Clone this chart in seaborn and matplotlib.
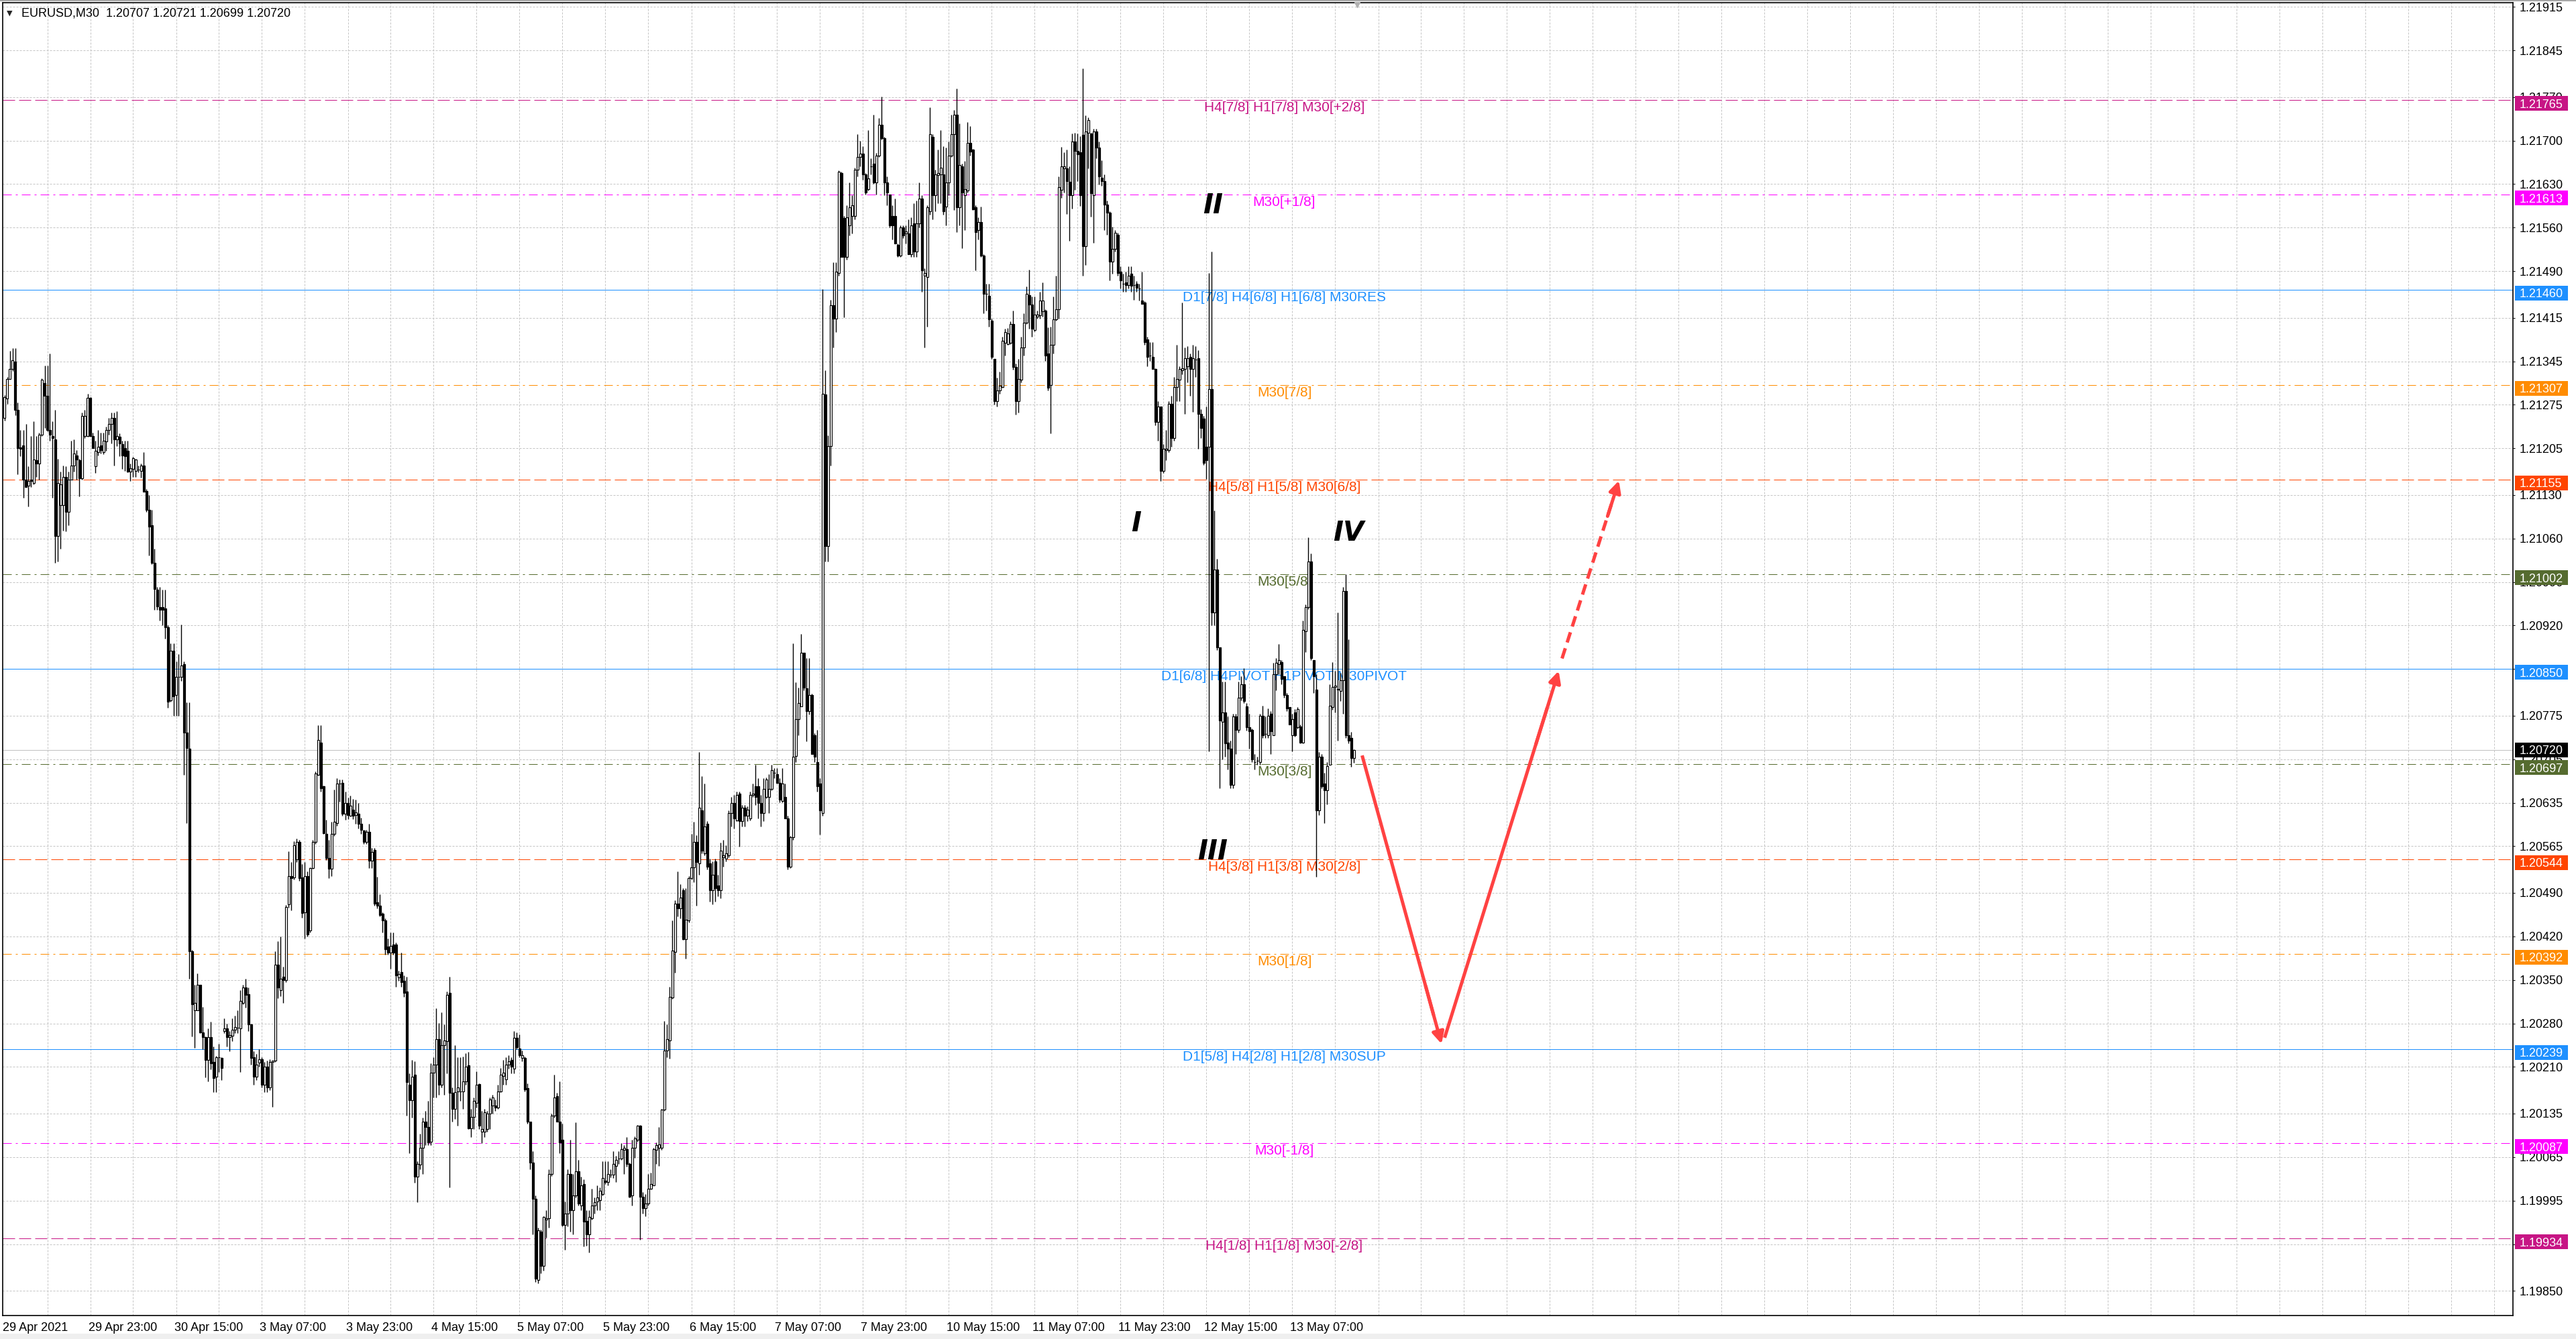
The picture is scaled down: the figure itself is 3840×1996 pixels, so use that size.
import numpy as np
import pandas as pd
import matplotlib
matplotlib.use("Agg")
import matplotlib.pyplot as plt
import matplotlib.transforms as mtransforms
from matplotlib.patches import Rectangle
import seaborn as sns

# ---------------- data (prices in points of 1e-5 above 1.20000) ----------------
BASE_PRICE = 1.20000
open_pts = [
1254,1285,1316,1333,1345,1267,1206,1210,1155,1145,1155,1149,1186,1180,1227,1310,
1289,1234,1225,1219,1064,1114,1114,1159,1103,1155,1177,1194,1186,1157,1225,1225,
1286,1225,1176,1199,1210,1199,1216,1234,1244,1254,1219,1224,1212,1205,1201,1168,
1172,1169,1171,1169,1177,1136,1106,1081,1021,978,950,950,947,917,800,879,
808,837,837,858,748,722,396,301,301,342,266,258,221,258,218,194,
226,225,268,272,258,260,270,273,272,313,338,327,278,226,194,217,
222,181,210,177,218,220,375,334,355,350,472,517,515,544,572,515,
459,517,430,530,572,680,732,661,585,546,529,585,602,666,667,617,
635,614,624,615,617,601,590,572,588,542,559,475,469,456,446,404,
394,407,407,354,363,349,331,181,156,197,33,53,80,122,113,90,
201,214,255,181,245,252,329,168,143,171,171,171,187,213,111,130,
152,182,106,106,110,135,148,148,145,171,195,190,214,221,207,257,
240,225,225,176,122,56,-2,-133,-55,-110,-36,-33,38,132,163,122,
93,-44,-26,38,-20,3,42,-13,22,-38,-59,-33,-13,-6,-4,6,
27,25,37,37,51,63,63,77,78,54,3,80,93,115,1,-17,
-10,14,20,77,80,80,141,236,253,322,395,473,465,494,415,446,
514,531,572,537,623,554,601,537,494,541,502,494,547,545,550,618,
635,607,650,605,627,614,610,647,661,661,635,618,644,644,657,683,
681,667,638,644,610,532,580,710,769,790,876,819,782,808,743,700,
666,618,1292,1048,1209,1435,1414,1487,1648,1575,1513,1564,1579,1579,1653,1674,
1679,1646,1622,1659,1663,1633,1676,1725,1704,1633,1613,1579,1579,1532,1515,1560,
1551,1551,1517,1567,1521,1567,1607,1483,1481,1586,1706,1612,1644,1646,1646,1594,
1633,1676,1710,1742,1593,1659,1612,1620,1696,1685,1593,1556,1569,1515,1453,1450,
1410,1349,1281,1298,1304,1375,1373,1375,1405,1336,1281,1315,1367,1407,1451,1436,
1395,1417,1419,1425,1427,1358,1307,1371,1412,1429,1621,1655,1655,1634,1612,1698,
1683,1681,1709,1530,1713,1711,1612,1715,1689,1640,1635,1597,1584,1505,1526,1549,
1489,1470,1472,1468,1486,1468,1470,1462,1443,1440,1380,1354,1352,1333,1247,1272,
1169,1202,1202,1277,1221,1303,1315,1331,1333,1337,1352,1333,1348,1350,1260,1253,
1208,1208,1300,941,1010,885,765,780,732,722,664,774,752,804,825,790,
756,752,700,703,700,775,746,743,778,743,842,858,861,838,808,789,
743,780,756,758,732,911,950,1023,864,817,623,709,666,655,696,789,
821,817,815,832,976,744,739,707]
high_pts = [
1291,1320,1362,1366,1366,1279,1234,1234,1244,1176,1225,1248,1225,1230,1318,1338,
1338,1357,1248,1267,1188,1168,1177,1176,1168,1217,1219,1202,1188,1263,1267,1293,
1287,1230,1217,1234,1230,1230,1240,1254,1263,1263,1265,1229,1217,1217,1217,1180,
1191,1188,1177,1180,1199,1139,1130,1106,1044,982,982,978,978,920,891,891,
862,874,922,862,796,796,398,342,360,342,307,259,272,283,243,228,
247,226,288,280,268,288,292,301,334,342,352,338,280,235,231,239,
226,218,220,222,220,396,412,420,371,470,557,540,573,577,575,536,
540,524,531,575,685,760,760,663,608,575,604,656,674,672,672,653,
643,646,641,640,634,611,591,591,601,562,562,516,488,459,449,417,
426,426,410,365,394,357,355,200,221,219,58,103,129,139,155,216,
226,304,281,298,279,331,355,177,245,226,226,227,232,234,142,161,
203,184,139,142,139,161,165,158,181,208,221,226,229,226,268,265,
262,236,227,184,122,74,3,-49,-52,-30,-20,45,135,197,168,187,
119,-6,45,93,38,121,61,33,29,-20,-20,14,0,19,16,58,
58,58,45,74,67,74,87,84,97,56,93,98,117,117,9,6,
38,40,80,89,113,142,284,279,339,446,478,524,504,498,498,517,
585,604,583,717,678,666,605,545,541,545,519,571,575,567,623,644,
648,653,653,631,631,629,653,666,696,674,648,674,676,681,696,691,
691,674,691,666,614,582,891,829,820,906,876,868,868,810,747,752,
674,1461,1330,1226,1444,1504,1504,1652,1650,1579,1596,1633,1612,1656,1710,1699,
1691,1648,1717,1672,1742,1680,1736,1771,1706,1642,1613,1596,1607,1534,1564,1564,
1564,1573,1577,1599,1603,1633,1612,1495,1596,1754,1710,1653,1685,1717,1691,1689,
1698,1742,1749,1784,1728,1663,1667,1730,1723,1687,1596,1577,1594,1517,1470,1470,
1414,1349,1319,1328,1384,1397,1398,1409,1427,1341,1349,1384,1422,1465,1492,1449,
1449,1427,1457,1472,1429,1400,1401,1449,1483,1642,1690,1681,1685,1659,1711,1713,
1711,1707,1816,1741,1737,1713,1719,1719,1698,1668,1646,1603,1586,1561,1556,1552,
1498,1486,1489,1498,1498,1483,1474,1470,1489,1442,1384,1376,1376,1334,1281,1272,
1212,1234,1281,1290,1320,1371,1337,1440,1367,1369,1358,1371,1369,1363,1268,1257,
1272,1487,1522,1105,1027,885,830,830,774,735,778,778,830,838,851,795,
778,754,713,709,778,791,774,787,782,860,868,890,864,838,812,789,
778,786,789,761,928,954,1062,1036,864,842,717,713,683,700,825,861,
847,941,844,982,1002,898,749,721]
low_pts = [
1250,1277,1316,1329,1258,1163,1192,1125,1143,1111,1143,1147,1159,1155,1225,1238,
1232,1217,1126,1021,1023,1044,1073,1071,1081,1155,1168,1155,1128,1155,1221,1224,
1224,1205,1165,1194,1197,1196,1201,1227,1213,1177,1209,1192,1172,1169,1166,1153,
1159,1159,1166,1158,1135,1103,1033,1019,945,945,928,920,899,788,798,775,
775,775,831,680,602,352,259,241,301,264,239,193,187,206,169,169,
202,189,264,243,235,251,264,264,202,311,305,268,214,181,189,210,
177,169,169,173,146,218,321,324,313,346,466,462,511,540,509,450,
417,420,426,529,569,679,653,585,543,514,517,582,598,637,614,608,
609,613,609,601,593,585,569,569,530,530,469,465,452,426,391,391,
368,391,339,349,339,323,132,71,129,24,-7,45,38,84,84,84,
161,161,165,177,165,200,16,122,126,116,155,142,181,110,97,110,
145,110,87,97,106,110,135,139,142,169,181,181,207,200,200,239,
226,219,171,119,45,-59,-136,-138,-122,-118,-65,-49,35,129,122,71,
-46,-84,-46,-55,-59,0,-13,-20,-79,-78,-88,-36,-26,-20,-20,3,
22,19,32,31,25,54,61,38,50,0,-13,64,90,-68,-26,-30,
-13,13,19,54,51,77,139,226,223,320,362,452,449,414,384,443,
511,507,469,519,554,550,528,476,472,476,485,481,532,541,547,597,
593,605,564,597,597,605,607,644,631,610,597,605,642,618,655,674,
666,636,636,610,528,530,575,700,743,790,816,734,777,713,700,653,
584,614,1023,1023,1177,1367,1392,1483,1513,1416,1508,1547,1551,1573,1642,1659,
1637,1613,1620,1646,1630,1613,1674,1702,1612,1596,1560,1541,1534,1513,1513,1543,
1534,1517,1513,1513,1513,1560,1457,1367,1401,1581,1573,1586,1599,1599,1581,1564,
1612,1674,1588,1553,1564,1527,1556,1616,1676,1588,1491,1541,1513,1422,1427,1401,
1349,1276,1272,1293,1302,1354,1371,1373,1332,1259,1263,1311,1354,1405,1397,1384,
1393,1414,1414,1417,1346,1298,1229,1358,1410,1414,1608,1616,1582,1539,1591,1621,
1635,1595,1483,1500,1655,1578,1535,1672,1629,1627,1556,1548,1475,1486,1522,1483,
1462,1457,1457,1462,1457,1444,1457,1443,1437,1371,1337,1346,1333,1242,1217,1152,
1165,1186,1199,1208,1217,1281,1281,1324,1260,1311,1290,1264,1320,1204,1221,1178,
1156,718,920,920,881,658,705,709,688,658,658,713,748,800,795,751,
722,700,688,696,696,739,739,739,713,743,816,842,825,804,782,761,
718,741,754,731,731,877,946,864,812,516,615,658,602,632,696,785,
780,735,799,778,739,731,693,699]
close_pts = [
1287,1316,1333,1347,1267,1205,1204,1155,1143,1153,1153,1187,1180,1227,1315,1289,
1234,1227,1221,1064,1149,1147,1159,1103,1155,1177,1197,1187,1157,1257,1257,1286,
1225,1205,1201,1207,1202,1217,1234,1244,1254,1219,1225,1213,1194,1192,1168,1173,
1189,1187,1171,1177,1135,1106,1079,1021,979,951,945,945,917,798,879,806,
837,837,856,748,723,396,311,313,342,266,258,221,258,216,192,226,
226,208,272,258,261,270,274,273,316,338,326,278,225,194,214,222,
181,210,177,218,220,375,338,352,350,467,517,514,567,572,514,458,
517,423,530,572,682,736,658,586,546,529,585,604,666,666,617,635,
615,630,614,619,601,591,572,588,542,556,473,469,454,446,399,394,
405,394,357,359,346,329,186,156,194,33,54,80,122,113,89,201,
214,255,181,245,253,326,168,143,169,177,171,187,210,111,130,155,
181,116,110,137,135,158,161,145,171,197,201,214,219,210,257,242,
229,229,174,122,56,-2,-131,-53,-110,-31,-33,38,132,161,122,89,
-44,-26,38,-20,3,42,-10,20,-39,-59,-31,-13,-8,0,11,31,
25,38,37,54,61,63,78,80,54,1,80,95,116,1,-17,-10,
14,22,78,84,85,141,236,255,323,397,473,465,482,415,447,514,
531,572,540,627,558,597,532,494,519,498,494,558,550,554,618,635,
610,648,605,627,614,624,648,650,644,635,618,657,672,657,687,683,
667,640,666,610,532,580,709,769,795,876,820,782,808,713,709,661,
623,1293,1048,1209,1435,1414,1489,1650,1513,1513,1577,1593,1596,1653,1674,1679,
1646,1616,1639,1659,1633,1676,1725,1704,1633,1616,1564,1564,1534,1515,1560,1547,
1554,1517,1564,1521,1567,1607,1491,1487,1593,1710,1612,1646,1648,1656,1586,1633,
1676,1710,1742,1593,1661,1616,1622,1696,1682,1590,1553,1569,1515,1453,1453,1412,
1352,1281,1298,1306,1378,1392,1390,1405,1336,1281,1317,1367,1407,1453,1436,1397,
1420,1420,1443,1443,1354,1302,1371,1412,1429,1625,1658,1658,1635,1612,1698,1683,
1678,1612,1530,1715,1733,1615,1715,1689,1642,1635,1597,1584,1505,1526,1552,1487,
1475,1470,1468,1483,1466,1468,1463,1462,1437,1376,1352,1354,1333,1247,1272,1169,
1204,1204,1277,1221,1303,1317,1333,1334,1350,1350,1333,1350,1348,1260,1238,1182,
1186,1300,941,1010,885,767,780,731,722,664,774,752,804,825,799,756,
750,705,700,703,775,743,746,775,750,842,860,864,834,808,787,761,
769,743,786,732,913,950,1023,868,838,623,709,662,655,694,791,821,
823,818,832,976,744,735,707,720]

date_tick_bars = [0, 32, 64, 96, 128, 160, 192, 224, 256, 288, 320, 352, 384, 416, 448, 480]
date_labels = ["29 Apr 2021", "29 Apr 23:00", "30 Apr 15:00", "3 May 07:00", "3 May 23:00",
               "4 May 15:00", "5 May 07:00", "5 May 23:00", "6 May 15:00", "7 May 07:00",
               "7 May 23:00", "10 May 15:00", "11 May 07:00", "11 May 23:00", "12 May 15:00",
               "13 May 07:00"]
price_ticks = [1.21915, 1.21845, 1.21770, 1.21700, 1.21630, 1.21560, 1.21490, 1.21415,
               1.21345, 1.21275, 1.21205, 1.21130, 1.21060, 1.20990, 1.20920, 1.20850,
               1.20775, 1.20705, 1.20635, 1.20565, 1.20490, 1.20420, 1.20350, 1.20280,
               1.20210, 1.20135, 1.20065, 1.19995, 1.19925, 1.19850]

level_prices = [1.21765, 1.21613, 1.21460, 1.21307, 1.21155, 1.21002, 1.20850,
                1.20697, 1.20544, 1.20392, 1.20239, 1.20087, 1.19934]
level_texts = ["H4[7/8] H1[7/8] M30[+2/8]", "M30[+1/8]", "D1[7/8] H4[6/8] H1[6/8] M30RES",
               "M30[7/8]", "H4[5/8] H1[5/8] M30[6/8]", "M30[5/8]",
               "D1[6/8] H4PIVOT H1PIVOT M30PIVOT", "M30[3/8]", "H4[3/8] H1[3/8] M30[2/8]",
               "M30[1/8]", "D1[5/8] H4[2/8] H1[2/8] M30SUP", "M30[-1/8]",
               "H4[1/8] H1[1/8] M30[-2/8]"]
level_colors = ["#C71585", "#FF00FF", "#1E90FF", "#FF8C00", "#FF4500", "#556B2F", "#1E90FF",
                "#556B2F", "#FF4500", "#FF8C00", "#1E90FF", "#FF00FF", "#C71585"]
level_styles = ["dash", "dashdot", "solid", "dashdot", "dash", "dashdot", "solid",
                "dashdot", "dash", "dashdot", "solid", "dashdot", "dash"]
level_text_bar = 477
bid_price = 1.20720
title_text = "EURUSD,M30  1.20707 1.20721 1.20699 1.20720"

wave_labels = ["I", "II", "III", "IV"]
wave_bars = [421.7, 450.5, 450.3, 501.0]
wave_prices = [1.21083, 1.21595, 1.20556, 1.21068]

forecast_bars = [506.0, 535.6, 536.75, 579.25, 580.5, 601.7]
forecast_prices = [1.20711, 1.20247, 1.20257, 1.20847, 1.20867, 1.21153]

# ---------------- build frame ----------------
n = len(close_pts)
assert len(open_pts) == n and len(high_pts) == n and len(low_pts) == n
df = pd.DataFrame({
    "bar": np.arange(n),
    "open": BASE_PRICE + np.array(open_pts) / 1e5,
    "high": BASE_PRICE + np.array(high_pts) / 1e5,
    "low": BASE_PRICE + np.array(low_pts) / 1e5,
    "close": BASE_PRICE + np.array(close_pts) / 1e5,
})
df["high"] = df[["high", "open", "close"]].max(axis=1)
df["low"] = df[["low", "open", "close"]].min(axis=1)

# ---------------- style ----------------
sns.set_theme(style="white")
plt.rcParams["font.family"] = ["Liberation Sans", "DejaVu Sans"]
plt.rcParams["lines.scale_dashes"] = False
plt.rcParams["axes.linewidth"] = 1.0

W, H, DPI = 3840, 1996, 100
PX = 72.0 / DPI  # points per pixel
fig = plt.figure(figsize=(W / DPI, H / DPI), dpi=DPI, facecolor="white")
AX_L, AX_R, AX_T, AX_B = 4, 3746, 4, 1960.6
ax = fig.add_axes([AX_L / W, (H - AX_B) / H, (AX_R - AX_L) / W, (AX_B - AX_T) / H])
ax.set_facecolor("white")

YMIN, YMAX = 1.198106, 1.219218
ax.set_xlim(-0.625, 934.875)
ax.set_ylim(YMIN, YMAX)
px_per_price = (AX_B - AX_T) / (YMAX - YMIN)

grid_kw = dict(color="#C4C4C4", lw=1 * PX, ls=(0, (3 * PX, 2 * PX)), zorder=0.5)
for b in range(16, 935, 16):
    ax.axvline(b, **grid_kw)
for p in price_ticks:
    ax.axhline(p, **grid_kw)

dash_map = {"dash": (0, (18 * PX, 6 * PX)),
            "dashdot": (0, (13 * PX, 6 * PX, 3 * PX, 6 * PX)),
            "solid": "-"}
for p, c, s in zip(level_prices, level_colors, level_styles):
    ax.axhline(p, color=c, lw=1 * PX, ls=dash_map[s], zorder=1.2)
ax.axhline(bid_price, color="#C0C0C0", lw=1 * PX, ls="-", zorder=1.1)

for p, t, c in zip(level_prices, level_texts, level_colors):
    ax.annotate(t, xy=(level_text_bar, p), xytext=(0, -11.5 * PX), textcoords="offset points",
                ha="center", va="center", color=c, fontsize=15, zorder=1.5)

# candles
up = df["close"] >= df["open"]
faces = np.where(up, "white", "black")
ax.vlines(df["bar"], df["low"], df["high"], color="black", lw=1.4 * PX, zorder=3)
ax.bar(df["bar"], (df["close"] - df["open"]).abs(), bottom=df[["open", "close"]].min(axis=1),
       width=0.58, color=faces, edgecolor="black", linewidth=1.2 * PX, zorder=4, align="center")

# wave labels
for t, b, p in zip(wave_labels, wave_bars, wave_prices):
    ax.text(b, p, t, ha="center", va="center", fontsize=29, color="black",
            family="DejaVu Sans", style="oblique", weight="bold", zorder=5)

# forecast arrows
red = "#FF4242"
lw_arrow = 5 * PX
seg = [(0, 1), (2, 3), (4, 5)]
for k, (i, j) in enumerate(seg):
    x0, y0 = forecast_bars[i], forecast_prices[i]
    x1, y1 = forecast_bars[j], forecast_prices[j]
    xm, ym = x0 + 0.9 * (x1 - x0), y0 + 0.9 * (y1 - y0)
    seg_df = pd.DataFrame({"x": [x0, xm], "y": [y0, ym]})
    if k < 2:
        sns.lineplot(data=seg_df, x="x", y="y", ax=ax, color=red, lw=lw_arrow,
                     estimator=None, sort=False, zorder=6, solid_capstyle="butt")
    else:
        ax.plot(seg_df["x"], seg_df["y"], color=red, lw=lw_arrow,
                ls=(0, (16 * PX, 9 * PX)), zorder=6, solid_capstyle="butt")
    xh, yh = x0 + 0.8 * (x1 - x0), y0 + 0.8 * (y1 - y0)
    ax.annotate("", xy=(x1, y1), xytext=(xh, yh),
                arrowprops=dict(arrowstyle="-|>", color=red, lw=lw_arrow,
                                mutation_scale=26, shrinkA=0, shrinkB=0), zorder=7)

# chart shift marker
ax.plot([504.25], [YMAX - 3 / px_per_price], marker="v", color="#B0B0B0", ms=6,
        clip_on=False, zorder=8)

# axes, ticks
for s in ax.spines.values():
    s.set_color("black")
    s.set_linewidth(1.2)
ax.yaxis.tick_right()
ax.set_yticks(price_ticks)
ax.set_yticklabels([f"{v:.5f}" for v in price_ticks])
ax.tick_params(axis="y", which="major", direction="out", length=3 * PX, width=1 * PX,
               pad=7 * PX, labelsize=13, colors="black", left=False, right=True)
ax.set_xticks(date_tick_bars)
ax.set_xticklabels(date_labels)
ax.tick_params(axis="x", which="major", direction="out", length=5 * PX, width=1 * PX,
               pad=5 * PX, labelsize=13, colors="black")
shift = mtransforms.ScaledTranslation(-3 / DPI, 0, fig.dpi_scale_trans)
for lab in ax.get_xticklabels():
    lab.set_horizontalalignment("left")
    lab.set_transform(lab.get_transform() + shift)
ax.set_xlabel("")
ax.set_ylabel("")

# price tags on the right axis
blend = mtransforms.blended_transform_factory(ax.transAxes, ax.transData)
ax_w = AX_R - AX_L
box_x0 = (3748.5 - AX_L) / ax_w
box_w = 79.5 / ax_w
txt_x = (3756 - AX_L) / ax_w
box_h = 22 / px_per_price
tags = list(zip(level_prices, level_colors, [5] * len(level_prices))) + [(bid_price, "#000000", 0)]
for p, c, off in tags:
    yc = p - off / px_per_price
    ax.add_patch(Rectangle((box_x0, yc - box_h / 2), box_w, box_h, transform=blend,
                           facecolor=c, edgecolor="none", clip_on=False, zorder=10))
    ax.text(txt_x, yc, f"{p:.5f}", transform=blend, color="white", ha="left",
            va="center_baseline", fontsize=13, zorder=11, clip_on=False)

# title line
fig.text(10 / W, 1 - 20 / H, "\u25BC", fontsize=8, family="DejaVu Sans", va="center", ha="left")
fig.text(32 / W, 1 - 20 / H, title_text, fontsize=13, va="center", ha="left", color="black")

# window frame
fig.patches.append(Rectangle((0, 1 - 2 / H), 1, 2 / H, transform=fig.transFigure,
                             facecolor="#A8A8A8", edgecolor="none"))
fig.patches.append(Rectangle((0, 0), 1, 8 / H, transform=fig.transFigure,
                             facecolor="#EFEFEF", edgecolor="none"))

fig.savefig("out.png", dpi=DPI, facecolor="white")
